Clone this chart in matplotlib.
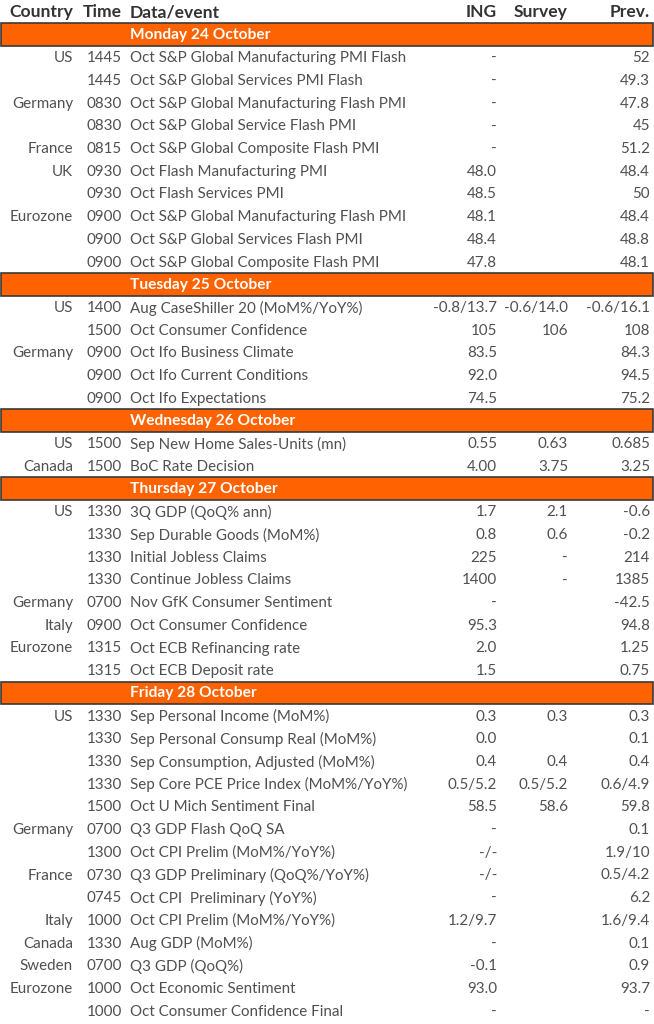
import matplotlib
matplotlib.use("Agg")
import matplotlib.pyplot as plt
from matplotlib.patches import Rectangle

days = ["Monday 24 October", "Tuesday 25 October", "Wednesday 26 October",
        "Thursday 27 October", "Friday 28 October"]
day_counts = [10, 5, 2, 8, 14]

countries = ["US", "", "Germany", "", "France", "UK", "", "Eurozone", "", "",
             "US", "", "Germany", "", "",
             "US", "Canada",
             "US", "", "", "", "Germany", "Italy", "Eurozone", "",
             "US", "", "", "", "", "Germany", "", "France", "", "Italy", "Canada", "Sweden", "Eurozone", ""]
times = ["1445", "1445", "0830", "0830", "0815", "0930", "0930", "0900", "0900", "0900",
         "1400", "1500", "0900", "0900", "0900",
         "1500", "1500",
         "1330", "1330", "1330", "1330", "0700", "0900", "1315", "1315",
         "1330", "1330", "1330", "1330", "1500", "0700", "1300", "0730", "0745", "1000", "1330", "0700", "1000", "1000"]
events = ["Oct S&P Global Manufacturing PMI Flash", "Oct S&P Global Services PMI Flash",
          "Oct S&P Global Manufacturing Flash PMI", "Oct S&P Global Service Flash PMI",
          "Oct S&P Global Composite Flash PMI", "Oct Flash Manufacturing PMI",
          "Oct Flash Services PMI", "Oct S&P Global Manufacturing Flash PMI",
          "Oct S&P Global Services Flash PMI", "Oct S&P Global Composite Flash PMI",
          "Aug CaseShiller 20 (MoM%/YoY%)", "Oct Consumer Confidence", "Oct Ifo Business Climate",
          "Oct Ifo Current Conditions", "Oct Ifo Expectations",
          "Sep New Home Sales-Units (mn)", "BoC Rate Decision",
          "3Q GDP (QoQ% ann)", "Sep Durable Goods (MoM%)", "Initial Jobless Claims",
          "Continue Jobless Claims", "Nov GfK Consumer Sentiment", "Oct Consumer Confidence",
          "Oct ECB Refinancing rate", "Oct ECB Deposit rate",
          "Sep Personal Income (MoM%)", "Sep Personal Consump Real (MoM%)",
          "Sep Consumption, Adjusted (MoM%)", "Sep Core PCE Price Index (MoM%/YoY%)",
          "Oct U Mich Sentiment Final", "Q3 GDP Flash QoQ SA", "Oct CPI Prelim (MoM%/YoY%)",
          "Q3 GDP Preliminary (QoQ%/YoY%)", "Oct CPI  Preliminary (YoY%)",
          "Oct CPI Prelim (MoM%/YoY%)", "Aug GDP (MoM%)", "Q3 GDP (QoQ%)",
          "Oct Economic Sentiment", "Oct Consumer Confidence Final"]
ing = ["-", "-", "-", "-", "-", "48.0", "48.5", "48.1", "48.4", "47.8",
       "-0.8/13.7", "105", "83.5", "92.0", "74.5",
       "0.55", "4.00",
       "1.7", "0.8", "225", "1400", "-", "95.3", "2.0", "1.5",
       "0.3", "0.0", "0.4", "0.5/5.2", "58.5", "-", "-/-", "-/-", "-", "1.2/9.7", "-", "-0.1", "93.0", "-"]
survey = ["", "", "", "", "", "", "", "", "", "",
          "-0.6/14.0", "106", "", "", "",
          "0.63", "3.75",
          "2.1", "0.6", "-", "-", "", "", "", "",
          "0.3", "", "0.4", "0.5/5.2", "58.6", "", "", "", "", "", "", "", "", ""]
prev = ["52", "49.3", "47.8", "45", "51.2", "48.4", "50", "48.4", "48.8", "48.1",
        "-0.6/16.1", "108", "84.3", "94.5", "75.2",
        "0.685", "3.25",
        "-0.6", "-0.2", "214", "1385", "-42.5", "94.8", "1.25", "0.75",
        "0.3", "0.1", "0.4", "0.6/4.9", "59.8", "0.1", "1.9/10", "0.5/4.2", "6.2", "1.6/9.4", "0.1", "0.9", "93.7", "-"]
headers = ["Country", "Time", "Data/event", "ING", "Survey", "Prev."]

W, H = 654, 1024
fig = plt.figure(figsize=(W / 100, H / 100), dpi=100)
ax = fig.add_axes([0, 0, 1, 1])
ax.set_xlim(0, W)
ax.set_ylim(H, 0)
ax.axis("off")

FONT = "Lato"
FS = 10.9
FS_HEAD = 12.6
FS_BAND = 11.2
body_col = "#505050"
head_col = "#333333"
orange = "#FF6200"

y0 = 12.0
pitch = 22.7
dy = 0.9
x_country = 73
x_time = 122
x_event = 130
x_ing = 497
x_survey = 568
x_prev = 650

def put(x, y, s, ha, fs=FS, **kw):
    ax.text(x, y + dy, s, ha=ha, va="center", fontfamily=FONT, fontsize=fs, **kw)

# header
for x, s, ha in zip([x_country, x_time, x_event, x_ing, x_survey, x_prev], headers,
                    ["right", "right", "left", "right", "right", "right"]):
    put(x, y0 - dy, s, ha, fs=FS_HEAD, color=head_col, fontweight="bold")

row = 1
k = 0
for day, n in zip(days, day_counts):
    yc = y0 + row * pitch
    ax.add_patch(Rectangle((0.5, yc - pitch / 2), W - 2, pitch, facecolor=orange,
                           edgecolor="#3a3a3a", linewidth=1.2))
    put(x_event, yc - 0.4, day, "left", fs=FS_BAND, color="white", fontweight="bold")
    row += 1
    for i in range(n):
        yc = y0 + row * pitch
        put(x_country, yc, countries[k], "right", color=body_col)
        put(x_time, yc, times[k], "right", color=body_col)
        put(x_event, yc, events[k], "left", color=body_col)
        put(x_ing, yc, ing[k], "right", color=body_col)
        put(x_survey, yc, survey[k], "right", color=body_col)
        put(x_prev, yc, prev[k], "right", color=body_col)
        row += 1
        k += 1

fig.savefig("out.png", dpi=100)
